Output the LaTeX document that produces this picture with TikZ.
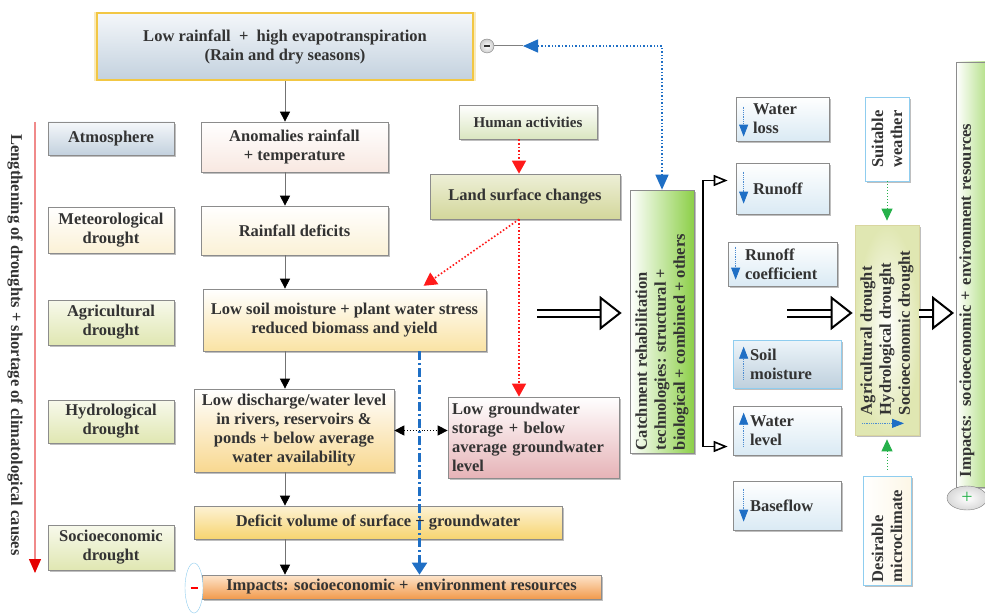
\documentclass[tikz,border=0pt]{standalone}
\usepackage{graphicx}
\usepackage{fontspec}
\setmainfont{Liberation Serif}
\usetikzlibrary{arrows.meta,shadows,shapes.geometric}

\definecolor{txt}{HTML}{333333}
\definecolor{edge}{HTML}{8C8C8C}
\definecolor{gold}{HTML}{F2C744}
\definecolor{skytop}{HTML}{F4F7FA}
\definecolor{skybot}{HTML}{C3D1DE}
\definecolor{cream}{HTML}{FBF1D6}
\definecolor{olive}{HTML}{E0E7B2}
\definecolor{pinkish}{HTML}{F8E8E1}
\definecolor{sand}{HTML}{FAE3A4}
\definecolor{sage}{HTML}{DAE6C0}
\definecolor{khaki}{HTML}{D3D79B}
\definecolor{amber}{HTML}{F8D890}
\definecolor{rose}{HTML}{E6B3B7}
\definecolor{honey}{HTML}{F7D470}
\definecolor{peach}{HTML}{FDE5CC}
\definecolor{tangerine}{HTML}{F19A4C}
\definecolor{leaf}{HTML}{8CCF48}
\definecolor{ice}{HTML}{DAEAF4}
\definecolor{steel}{HTML}{BFD0DD}
\definecolor{sky}{HTML}{8FCDEF}
\definecolor{paleline}{HTML}{D9D6A0}
\definecolor{linkblue}{HTML}{1F6FC5}
\definecolor{linkred}{HTML}{FF1A1A}
\definecolor{linkgreen}{HTML}{25B14A}
\definecolor{softred}{HTML}{F08A8A}

% text standing upright in a box, read from bottom to top
\newcommand{\uptext}[2]{\rotatebox{90}{\parbox{#1}{\raggedright #2}}}
\newcommand{\upmid}[2]{\rotatebox{90}{\parbox{#1}{\centering #2}}}

\begin{document}
\begin{tikzpicture}[x=1pt, y=-1pt,
        every node/.style={font=\fontsize{16.5}{19}\selectfont\bfseries, text=txt},
        box/.style={draw=edge, line width=0.7pt, rectangle, align=center, inner sep=2pt,
          drop shadow={shadow xshift=2pt, shadow yshift=-2pt, fill=black!50, opacity=.5}},
        grad/.style 2 args={top color=#1, bottom color=#2},
        wh/.style 2 args={minimum width=#1pt, minimum height=#2pt},
        topbox/.style={draw=gold, line width=2.2pt, top color=skytop, bottom color=skybot, align=center,
          drop shadow={shadow xshift=0pt, shadow yshift=0pt, shadow scale=1.015, fill=gold!60, opacity=.6}},
        ibox/.style={box, grad={white}{ice}, align=left, inner xsep=17pt, inner ysep=2pt},
        flow/.style={draw=black!55, line width=0.8pt, -{Triangle[width=10pt,length=10pt,black]}},
        redlink/.style={draw=linkred, dotted, line width=1.6pt, -{Triangle[width=14pt,length=13pt,linkred]}},
        bluedot/.style={draw=linkblue, dotted, line width=1.4pt,
          {Triangle[width=13pt,length=15pt,linkblue]}-{Triangle[width=13pt,length=15pt,linkblue]}},
        bluedash/.style={draw=linkblue, line width=2.2pt, dash pattern=on 9pt off 3pt on 2pt off 3pt,
          -{Triangle[width=15pt,length=12pt,linkblue]}},
        twoway/.style={draw=black, dotted, line width=0.9pt,
          {Triangle[width=10pt,length=10pt]}-{Triangle[width=10pt,length=10pt]}},
        greenlink/.style={draw=linkgreen, dotted, line width=1pt, -{Triangle[width=11pt,length=12pt,linkgreen]}},
        bracket/.style={draw=black, line width=1.6pt, -{Triangle[open,width=11pt,length=14pt]}},
        fat/.style={draw=black, double, double distance=5pt, line width=2pt,
          -{Triangle[open,width=34pt,length=22pt]}},
        icon/.style={draw=linkblue!80, densely dotted, line width=0.8pt, -{Triangle[width=9pt,length=12pt,linkblue]}},
        redbar/.style={draw=softred, line width=1.3pt, -{Triangle[width=12pt,length=14pt,red!90!black]}}
        ]
        \useasboundingbox (0,0) rectangle (985,615);
        \clip (0,0) rectangle (985,615);
        \fill[white] (0,0) rectangle (985,615);

        % causes
        \node[topbox, minimum width=376pt, minimum height=67pt] (top) at (285,46.5)
          {Low rainfall \ + \ high evapotranspiration\\(Rain and dry seasons)};
        \node[circle, draw=gray, inner sep=0pt, minimum size=14pt, inner color=white, outer color=gray!40] (mcirc) at (487,46) {\rule{6pt}{1.8pt}};

        % drought types
        \node[box, grad={skytop}{skybot}, wh={126}{33}] (atm) at (111,138.5) {Atmosphere};
        \node[box, grad={white}{cream}, wh={126}{46}] (met) at (111,230) {Meteorological\\drought};
        \node[box, grad={olive!25}{olive}, wh={126}{45}] (agr) at (111,322.5) {Agricultural\\drought};
        \node[box, grad={olive!25}{olive}, wh={126}{43}] (hyd) at (111,421.5) {Hydrological\\drought};
        \node[box, grad={olive!25}{olive}, wh={126}{45}] (soc) at (111,547.5) {Socioeconomic\\drought};
        \coordinate (lt) at (35,122);
        \coordinate (lb) at (35,573);
        \draw[redbar] (lt) -- (lb);
        \node[rotate=-90] (lengthen) at (15,345) {Lengthening of droughts + shortage of climatological causes};

        % chain of effects
        \node[box, grad={white}{pinkish}, wh={187}{50}] (anom) at (294.5,147) {Anomalies rainfall\\+ temperature};
        \node[box, grad={white}{cream}, wh={187}{49}] (rdef) at (294.5,230.5) {Rainfall deficits};
        \node[box, grad={white}{sand}, wh={283}{62}] (soilm) at (344.5,320) {Low soil moisture + plant water stress\\reduced biomass and yield};
        \node[box, grad={white}{sage}, wh={138}{34}, font=\fontsize{15}{18}\selectfont\bfseries] (human) at (528,122) {Human activities};
        \node[box, grad={khaki!40}{khaki}, wh={190}{45}] (land) at (525,196.5) {Land surface changes};
        \node[box, grad={white}{amber}, wh={200}{83}] (disch) at (294,430.5)
          {Low discharge/water level\\in rivers, reservoirs \&\\ponds + below average\\water availability};
        \node[box, grad={white}{rose}, wh={171}{81}, align=left, text width=163pt, inner xsep=4pt] (gwater) at (533.5,437.5)
          {Low groundwater\\storage + below\\average groundwater\\level};
        \node[box, grad={honey!30}{honey}, wh={368}{33}] (defv) at (378,522.5) {Deficit volume of surface + groundwater};
        \node[box, grad={peach}{tangerine}, wh={399}{24}, inner ysep=0pt] (impB) at (401.5,587) {Impacts: socioeconomic + \ environment resources};
        \node[ellipse, draw=sky, fill=white, minimum width=18pt, minimum height=50pt, inner sep=0pt] (minus) at (194,588) {\textcolor{red}{\rule{7pt}{1.8pt}}};

        % rehabilitation side
        \node[box, left color=white, right color=leaf, wh={64}{263}] (catch) at (662,321.5)
          {\uptext{257pt}{Catchment rehabilitation\\technologies: structural +\\biological + combined + others}};
        \node[ibox, text width=59pt, minimum height=44pt] (wloss) at (782.5,119) {Water\\loss};
        \node[ibox, text width=59pt, minimum height=51pt] (runoff) at (782.5,188.5) {Runoff};
        \node[ibox, text width=75pt, minimum height=44pt] (rcoef) at (782.5,264) {Runoff\\coefficient};
        \node[ibox, draw=sky, grad={ice!50}{steel}, text width=74pt, minimum height=48pt] (soilR) at (787,364) {Soil\\moisture};
        \node[ibox, text width=74pt, minimum height=49pt] (wlevel) at (787,430.5) {Water\\level};
        \node[ibox, text width=74pt, minimum height=49pt] (baseflow) at (787,505.5) {Baseflow};
        \node[box, draw=sky, fill=white, wh={44}{84}] (suit) at (887,139) {\upmid{80pt}{Suitable\\weather}};
        \node[box, draw=paleline, inner color=white, outer color=olive, wh={64}{210}] (drought) at (887,330)
          {\uptext{170pt}{Agricultural drought\\Hydrological drought\\Socioeconomic drought}};
        \node[box, draw=sky, left color=white, right color=cream!60, wh={48}{109}] (desir) at (887,530.5)
          {\uptext{103pt}{Desirable\\microclimate}};
        \node[box, anchor=west, left color=white, right color=leaf, wh={47}{425}, align=left,
          text width=41pt, inner xsep=3pt] (impR) at (956,274.5)
          {\uptext{405pt}{Impacts: socioeconomic + environment resources}};
        \node[ellipse, draw=gray, inner color=white, outer color=gray!30, minimum width=40pt, minimum height=24pt,
          inner sep=0pt, text=linkgreen, font=\fontsize{20}{20}\selectfont] (plus) at (967,498) {+};

        % connectors
        \draw[flow] (top.south) -- (top.south |- anom.north);
        \draw[flow] (anom.south -| top.south) -- (rdef.north -| top.south);
        \draw[flow] (rdef.south -| top.south) -- (soilm.north -| top.south);
        \draw[flow] (soilm.south -| top.south) -- (disch.north -| top.south);
        \draw[flow] (disch.south -| top.south) -- (defv.north -| top.south);
        \draw[flow] (defv.south -| top.south) -- (impB.north -| top.south);
        \draw[redlink] ([xshift=-9pt]human.south) -- ([xshift=-9pt]human.south |- land.north);
        \draw[redlink, shorten >=5pt] ([xshift=-6pt]land.south) -- ([xshift=75pt]soilm.north);
        \draw[redlink] ([xshift=-6pt]land.south) -- ([xshift=-6pt]land.south |- gwater.north);
        \draw[bluedash] ([xshift=75pt]soilm.south) -- ([xshift=75pt]soilm.south |- impB.north);
        \draw[twoway] (disch.east) -- (disch.east -| gwater.west);

        \coordinate (tipL) at (523,46);
        \draw[gray, line width=1pt] (mcirc) -- (tipL);
        \draw[bluedot] (catch.north) |- (tipL);

        \coordinate (fa1) at (537,313);
        \coordinate (fa2) at (787,313);
        \draw[fat, shorten >=8pt] (fa1) -- (fa1 -| catch.west);
        \draw[fat, shorten >=2pt] (fa2) -- (fa2 -| drought.west);
        \draw[fat, shorten >=2pt] (fa2 -| drought.east) -- (fa2 -| impR.west);

        \coordinate (brk) at (703,321.5);
        \draw[bracket, shorten >=8pt] (brk) |- ([yshift=8pt]runoff.west);
        \draw[bracket, shorten >=5pt] (brk) |- ([yshift=-16pt]wlevel.west);

        \draw[greenlink, shorten >=4pt] (suit.south) -- (drought.north);
        \draw[greenlink, shorten <=6pt, shorten >=4pt] (desir.north) -- (drought.south);

        % little arrows inside boxes
        \draw[icon] ([xshift=8pt,yshift=-10pt]wloss.north west) -- ++(0,30);
        \draw[icon] ([xshift=8pt,yshift=-9pt]runoff.north west) -- ++(0,32);
        \draw[icon] ([xshift=8pt,yshift=-5pt]rcoef.north west) -- ++(0,33);
        \draw[icon] ([xshift=11pt,yshift=-40pt]soilR.north west) -- ++(0,-33);
        \draw[icon] ([xshift=11pt,yshift=-41pt]wlevel.north west) -- ++(0,-34);
        \draw[icon] ([xshift=11pt,yshift=-8pt]baseflow.north west) -- ++(0,33);
        \draw[icon] ([xshift=-25pt,yshift=12pt]drought.south) -- ++(42,0);
    \end{tikzpicture}
\end{document}
